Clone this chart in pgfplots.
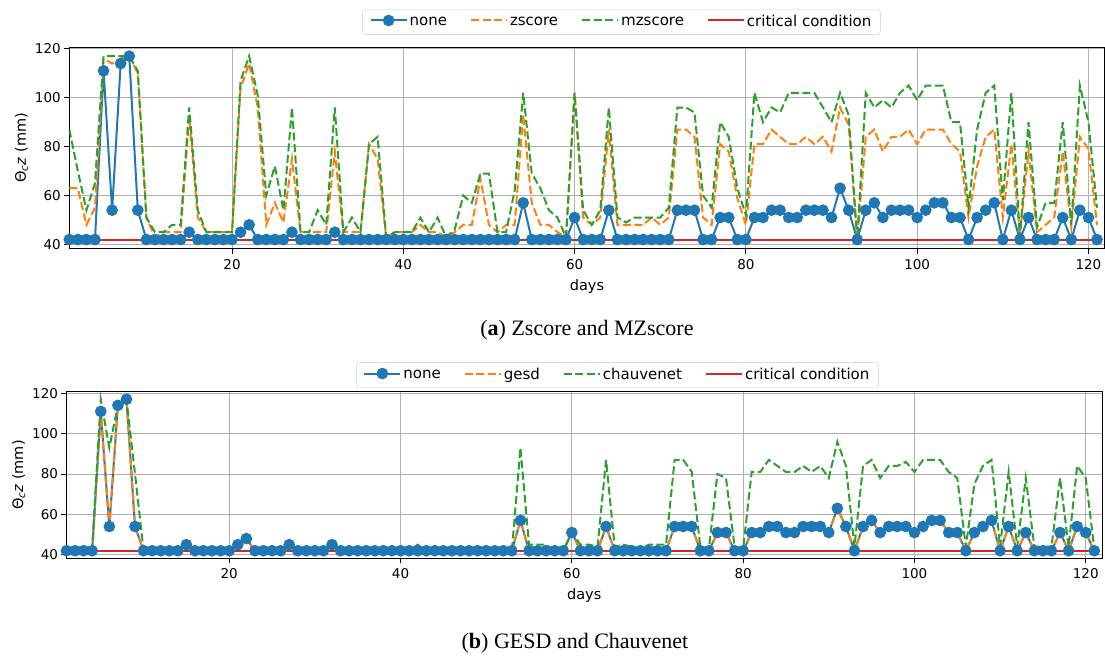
\documentclass[border=0pt]{standalone}
\usepackage{fontspec}
\setmainfont{DejaVu Sans}
\newfontfamily\capfont{Liberation Serif}
\usepackage{pgfplots}
\usepackage{pgfplotstable}
\pgfplotsset{compat=1.18}
\definecolor{tabblue}{HTML}{1F77B4}
\definecolor{taborange}{HTML}{FF7F0E}
\definecolor{tabgreen}{HTML}{2CA02C}
\definecolor{tabred}{HTML}{D62728}
\definecolor{gridgray}{HTML}{B0B0B0}
\definecolor{leggray}{HTML}{CCCCCC}

\pgfplotstableread{
day none zscore mzscore chauv
1 42 63 87 42
2 42 63 70 43
3 42 48 54 44
4 42 55 65 43
5 111 116 117 117
6 54 114 117 93
7 114 116 117 114
8 117 117 117 117
9 54 110 111 80
10 42 51 51 42
11 42 43 45 42
12 42 45 45 42
13 42 45 48 42
14 42 45 48 42
15 45 92 96 45
16 42 51 54 42
17 42 45 45 42
18 42 45 45 42
19 42 45 45 42
20 42 45 45 42
21 45 104 107 45
22 48 114 117 48
23 42 96 101 42
24 42 48 60 42
25 42 57 72 42
26 42 49 54 42
27 45 75 96 45
28 42 45 45 42
29 42 45 45 42
30 42 45 54 42
31 42 45 48 42
32 45 78 96 45
33 42 45 45 42
34 42 45 51 42
35 42 45 45 42
36 42 81 81 42
37 42 75 84 42
38 42 43 43 42
39 42 45 45 42
40 42 45 45 42
41 42 45 45 42
42 42 48 51 45
43 42 45 45 42
44 42 45 51 42
45 42 43 43 42
46 42 45 46 42
47 42 48 60 44
48 42 48 57 42
49 42 67 69 42
50 42 48 69 42
51 42 45 45 42
52 42 48 45 42
53 42 48 62 42
54 57 93 102 93
55 42 57 69 45
56 42 48 63 45
57 42 48 54 45
58 42 45 51 42
59 42 43 43 42
60 51 102 102 51
61 42 51 54 45
62 42 48 48 45
63 42 51 54 44
64 54 87 96 87
65 42 48 51 44
66 42 48 49 45
67 42 48 51 44
68 42 48 51 43
69 42 51 51 45
70 42 48 51 45
71 42 51 55 45
72 54 87 96 87
73 54 87 96 87
74 54 84 94 81
75 42 51 60 44
76 42 48 55 43
77 51 81 90 80
78 51 78 84 78
79 42 59 63 44
80 42 48 52 43
81 51 81 102 81
82 51 81 90 81
83 54 87 96 87
84 54 84 94 84
85 51 81 102 81
86 51 81 102 81
87 54 84 102 84
88 54 81 102 81
89 54 84 96 84
90 51 78 90 78
91 63 96 102 96
92 54 89 93 84
93 42 42 42 44
94 54 84 102 84
95 57 87 96 87
96 51 78 99 78
97 54 84 96 84
98 54 84 102 84
99 54 87 105 86
100 51 81 99 81
101 54 87 105 87
102 57 87 105 87
103 57 87 105 87
104 51 81 90 81
105 51 78 90 78
106 42 51 55 44
107 51 72 87 75
108 54 84 102 84
109 57 87 105 87
110 42 51 58 44
111 54 81 102 81
112 42 44 43 44
113 51 78 90 78
114 42 45 47 44
115 42 48 57 44
116 42 51 57 44
117 51 78 90 78
118 42 47 48 44
119 54 84 105 84
120 51 79 90 78
121 42 48 55 43
}\data

\pgfplotstableread{
day crit
1 42
121 42
}\crit

\pgfplotsset{
  mystyle/.style={
    scale only axis,
    xmin=1, xmax=121.9, ymin=38.25, ymax=120.75,
    xtick={20,40,...,120}, ytick={40,60,...,120},
    grid=major,
    major grid style={color=gridgray, line width=0.9pt},
    axis line style={line width=0.9pt},
    tick align=outside, tick pos=left, major tick length=5pt,
    every tick/.style={black, line width=0.9pt},
    tick label style={font=\fontsize{13.5}{15}\selectfont},
    xticklabel style={yshift=-2pt},
    label style={font=\fontsize{14.5}{16}\selectfont},
    xlabel style={yshift=-3pt},
    /pgf/number format/assume math mode=true,
    xlabel={days},
    ylabel={Θ\textsubscript{\itshape c}\textit{z} (mm)},
    legend columns=4,
    legend cell align=left,
    legend style={draw=leggray, rounded corners=3pt, anchor=center,
      font=\fontsize{15}{17}\selectfont, inner xsep=7pt, inner ysep=4pt,
      /tikz/every even column/.append style={column sep=21pt}},
    legend image code/.code={\draw[mark repeat=2,mark phase=2,yshift=1.5pt,##1] plot coordinates {(0pt,0pt) (18pt,0pt) (36pt,0pt)};},
  },
  noneplot/.style={color=tabblue, line width=2pt, mark=*, mark size=4.8pt, mark options={solid, fill=tabblue, draw=tabblue}},
  dashplot/.style={line width=2pt, dash pattern=on 8pt off 3.5pt},
}

\begin{document}
\begin{tikzpicture}[x=1pt,y=1pt]
\path[use as bounding box] (0,0) rectangle (1105,657);

\begin{axis}[mystyle, at={(69.3pt,408.3pt)}, anchor=south west,
  width=1035.4pt, height=201.7pt,
  legend style={at={(0.5333,1.124)}}]
\addplot[noneplot] table[x=day, y=none] {\data};
\addlegendentry{none}
\addplot[color=taborange, dashplot] table[x=day, y=zscore] {\data};
\addlegendentry{zscore}
\addplot[color=tabgreen, dashplot] table[x=day, y=mzscore] {\data};
\addlegendentry{mzscore}
\addplot[color=tabred, line width=2pt] table[x=day, y=crit] {\crit};
\addlegendentry{critical condition}
\end{axis}

\node[font=\capfont\fontsize{22}{25}\selectfont] at (587,327) {(\textbf{a}) Zscore and MZscore};

\begin{axis}[mystyle, at={(66.5pt,98.7pt)}, anchor=south west,
  width=1035.5pt, height=166.6pt,
  legend style={at={(0.532,1.100)}}]
\addplot[noneplot] table[x=day, y=none] {\data};
\addlegendentry{none}
\addplot[color=taborange, dashplot] table[x=day, y=none] {\data};
\addlegendentry{gesd}
\addplot[color=tabgreen, dashplot] table[x=day, y=chauv] {\data};
\addlegendentry{chauvenet}
\addplot[color=tabred, line width=2pt] table[x=day, y=crit] {\crit};
\addlegendentry{critical condition}
\end{axis}

\node[font=\capfont\fontsize{22}{25}\selectfont] at (575,14) {(\textbf{b}) GESD and Chauvenet};
\end{tikzpicture}
\end{document}
